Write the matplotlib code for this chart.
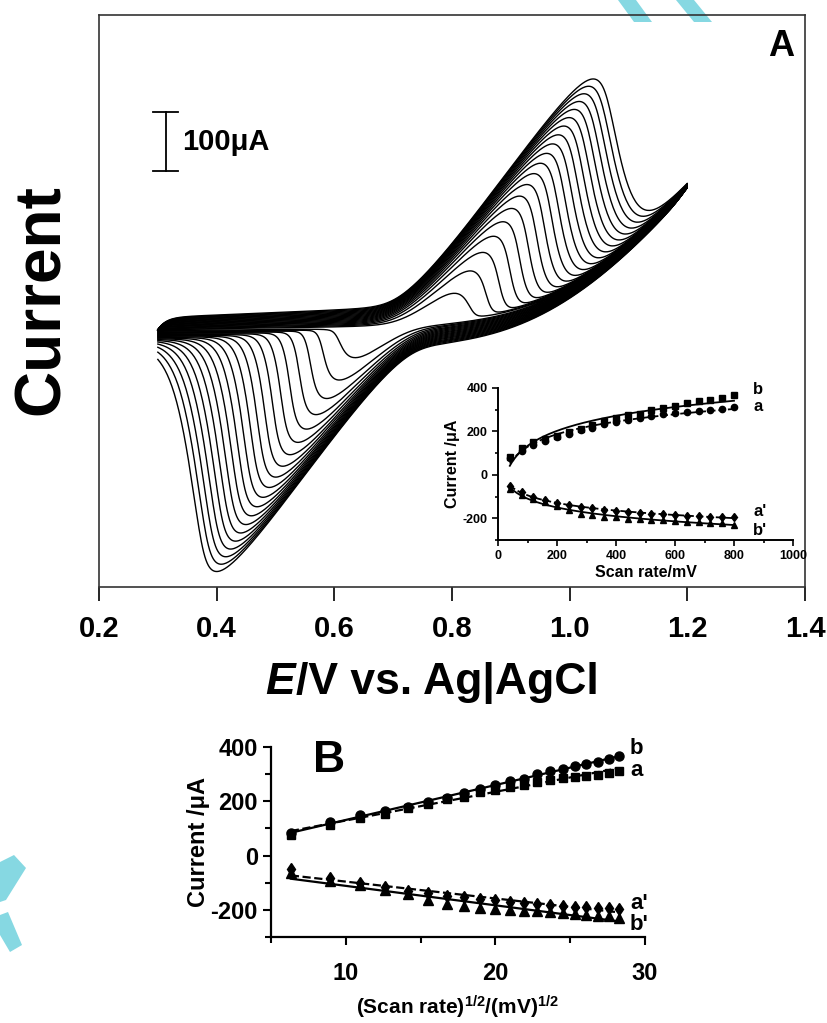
import numpy as np
import matplotlib
matplotlib.use("Agg")
import matplotlib.pyplot as plt
from matplotlib.patches import Polygon

# ---------------- data ----------------
# scan rates of the 20 voltammograms / points (mV/s)
scan_rate = np.array([40, 80, 120, 160, 200, 240, 280, 320, 360, 400,
                      440, 480, 520, 560, 600, 640, 680, 720, 760, 800])

# peak currents (uA)
ipa_a = np.array([77, 112, 139, 155, 175, 190, 207, 215, 233, 243,
                  253, 261, 270, 280, 286, 290, 295, 298, 303, 311])
ipa_b = np.array([82, 122, 150, 165, 180, 198, 213, 230, 247, 261,
                  274, 282, 300, 310, 319, 330, 338, 345, 354, 368])
ipc_a = np.array([-50, -81, -100, -116, -130, -138, -148, -154, -161, -165,
                  -170, -175, -179, -182, -186, -188, -191, -194, -194, -196])
ipc_b = np.array([-64, -92, -110, -127, -142, -164, -180, -186, -192, -196,
                  -201, -203, -206, -209, -212, -216, -218, -221, -224, -231])

# cell parameters estimated from the voltammograms in panel A
E_start, E_switch, dE = 0.30, 1.20, 0.002   # V
Ru = 5.8e-4                   # V/uA (~580 ohm uncompensated resistance)
Q_film, T_film = 110.0, 0.07  # uC, L^2/D (s) of the redox film
n_film = 1.5
E0_ox, E0_red = 0.75, 0.68   # V, apparent potentials (forward / reverse)
C0, C1 = 28.0, 40.0          # uF, uF/V  double layer
G_bg = 10.0                  # uA/V sloping background
A_ox, E_ox, b_ox = 110.0, 1.0, 0.08   # onset of background oxidation

scale_bar = 100      # uA

F_RT = 38.92


def sig(z):
    return 0.5 * (1 + np.tanh(0.5 * z))


def simulate_cv(v):
    """finite (film) diffusion, Nernstian, with ohmic drop and background"""
    nh = int(round((E_switch - E_start) / dE))
    E = np.concatenate([E_start + dE * np.arange(1, nh + 1),
                        E_switch - dE * np.arange(1, nh + 1)])
    N = E.size
    K = v.size
    dt = dE / v
    M = 60
    h = 1.0 / M
    r = dt / T_film / h ** 2
    Ainv = np.empty((K, M, M))
    idx = np.arange(M)
    for k in range(K):
        A = np.zeros((M, M))
        A[idx, idx] = 1 + 2 * r[k]
        A[idx[:-1], idx[:-1] + 1] = -r[k]
        A[idx[1:], idx[1:] - 1] = -r[k]
        A[M - 1, M - 2] = -2 * r[k]
        Ainv[k] = np.linalg.inv(A)
    g = Ainv[:, :, 0] * r[:, None]
    u = np.ones((K, M))
    nf = n_film * F_RT
    i_tot = np.zeros((K, N))
    x_prev = np.full(K, E_start)

    def charge(x):
        return C0 * x + 0.5 * C1 * (x - E_start) ** 2

    for n in range(N):
        if n < nh:
            e0 = E0_ox
        else:
            e0 = E0_red + (E0_ox - E0_red) * np.exp(-(n - nh) / 15.0)
        P = np.einsum('kij,kj->ki', Ainv, u)

        def total(x):
            u0 = sig(-nf * (x - e0))
            u1 = P[:, 0] + u0 * g[:, 0]
            u2 = P[:, 1] + u0 * g[:, 1]
            If = Q_film / T_film * (-3 * u0 + 4 * u1 - u2) / (2 * h)
            Ic = (charge(x) - charge(x_prev)) / dt
            Ib = G_bg * (x - E_start) + A_ox * np.exp(np.minimum((x - E_ox) / b_ox, 60))
            return If + Ic + Ib, u0

        lo = np.full(K, E[n] - 1.5)
        hi = np.full(K, E[n] + 1.5)
        for _ in range(42):
            x = 0.5 * (lo + hi)
            I, _u0 = total(x)
            pos = E[n] - x - Ru * I > 0
            lo = np.where(pos, x, lo)
            hi = np.where(pos, hi, x)
        x = 0.5 * (lo + hi)
        I, u0 = total(x)
        u = P + u0[:, None] * g
        i_tot[:, n] = I
        x_prev = x
    E = np.concatenate([[E_start], E])
    I = np.hstack([np.zeros((K, 1)), i_tot])
    return E, I


E_cv, I_cv = simulate_cv(scan_rate / 1000.0)

plt.rcParams['font.family'] = ['Liberation Sans', 'DejaVu Sans']
plt.rcParams['font.weight'] = 'bold'
plt.rcParams['mathtext.fontset'] = 'custom'
plt.rcParams['mathtext.rm'] = 'Liberation Sans:bold'
plt.rcParams['mathtext.it'] = 'Liberation Sans:bold:italic'
plt.rcParams['mathtext.bf'] = 'Liberation Sans:bold'

W, H = 827, 1023
fig = plt.figure(figsize=(W / 100, H / 100), dpi=100)


def box(l, t, r, b):
    return [l / W, 1 - b / H, (r - l) / W, (b - t) / H]


# faint cyan watermark pieces at the page edges
wm = '#86d8e2'
for pts in [[(618, 0), (636, 0), (652, 22), (634, 22)],
            [(676, 0), (694, 0), (712, 22), (694, 22)],
            [(0, 862), (14, 855), (26, 868), (6, 900), (0, 902)],
            [(0, 915), (8, 912), (22, 945), (10, 952), (0, 935)]]:
    fig.add_artist(Polygon([(x / W, 1 - y / H) for x, y in pts], closed=True,
                           transform=fig.transFigure, color=wm, lw=0, zorder=0))

# ---------------- panel A ----------------
ax = fig.add_axes(box(99, 15, 805, 587))
ax.patch.set_alpha(0)
for k in range(len(scan_rate)):
    ax.plot(E_cv, I_cv[k], color='black', lw=1.0)
y0_px = 330
ax.set_xlim(0.2, 1.4)
ax.set_ylim(-(587 - y0_px) / 0.59, (y0_px - 15) / 0.59)
ax.set_yticks([])
ax.set_xticks([0.2, 0.4, 0.6, 0.8, 1.0, 1.2, 1.4])
ax.set_xticklabels(['0.2', '0.4', '0.6', '0.8', '1.0', '1.2', '1.4'])
ax.tick_params(axis='x', direction='out', length=10, width=1.2, labelsize=21, pad=10)
for s in ax.spines.values():
    s.set_linewidth(1.2)
    s.set_color('#333333')

# scale bar
top = (y0_px - 112) / 0.59
ax.plot([0.314, 0.314], [top - scale_bar, top], color='black', lw=1.3)
ax.plot([0.292, 0.334], [top, top], color='black', lw=1.3)
ax.plot([0.292, 0.334], [top - scale_bar, top - scale_bar], color='black', lw=1.3)
ax.text(0.342, top - scale_bar / 2, '100\u03bcA', fontsize=21, fontweight='bold',
        va='center', ha='left')
ax.text(0.985, 0.945, 'A', transform=ax.transAxes, fontsize=26, fontweight='bold',
        ha='right', va='center')

fig.text(42 / W, 1 - 300 / H, 'Current', rotation=90, fontsize=46, fontweight='bold',
         ha='center', va='center')
fig.text(265 / W, 1 - 683 / H, 'E', fontsize=32, fontweight='bold', style='italic',
         ha='left', va='center')
fig.text(296 / W, 1 - 683 / H, '/V vs. Ag|AgCl', fontsize=32, fontweight='bold',
         ha='left', va='center')

# ---------------- inset ----------------
ins = fig.add_axes(box(498, 388, 793, 540))
lv = np.log(scan_rate)
vv = np.linspace(40, 800, 200)
for y, mk, ls in [(ipa_b, 's', '-'), (ipa_a, 'o', '--'), (ipc_a, 'd', '--'), (ipc_b, '^', '-')]:
    ins.plot(scan_rate, y, ls='none', marker=mk, ms=4.5, color='black')
    p = np.polyfit(lv, y, 1)
    ins.plot(vv, np.polyval(p, np.log(vv)), ls=ls, color='black', lw=1.3)
ins.set_xlim(0, 1000)
ins.set_ylim(-300, 400)
ins.set_xticks([0, 200, 400, 600, 800, 1000])
ins.set_yticks([-200, 0, 200, 400])
ins.set_yticklabels(['-200', '0', '200', '400'])
ins.set_yticks([-300, -100, 100, 300], minor=True)
ins.set_xticks([100, 300, 500, 700, 900], minor=True)
ins.tick_params(which='both', direction='out', labelsize=9, length=4, width=1.2)
ins.tick_params(which='minor', length=2.5)
for s in ['top', 'right']:
    ins.spines[s].set_visible(False)
for s in ['left', 'bottom']:
    ins.spines[s].set_linewidth(1.4)
ins.patch.set_alpha(0)
ins.set_xlabel('Scan rate/mV', fontsize=11.5, fontweight='bold', labelpad=2)
ins.set_ylabel('Current /\u03bcA', fontsize=11.5, fontweight='bold', labelpad=2)
for lab, yy in [('b', 392), ('a', 314), ("a'", -170), ("b'", -254)]:
    ins.text(865, yy, lab, fontsize=12, fontweight='bold', ha='left', va='center')

# ---------------- panel B ----------------
axb = fig.add_axes(box(271, 747, 645, 937))
sr = np.sqrt(scan_rate)
xx = np.array([sr[0], sr[-1]])
for y, mk, ls, ms in [(ipa_b, 'o', '-', 6.5), (ipa_a, 's', '--', 6), (ipc_a, 'd', '--', 6.5), (ipc_b, '^', '-', 6.5)]:
    axb.plot(sr, y, ls='none', marker=mk, ms=ms, color='black')
    p = np.polyfit(sr, y, 1)
    axb.plot(xx, np.polyval(p, xx), ls=ls, color='black', lw=1.6)
axb.set_xlim(5, 30)
axb.set_ylim(-300, 400)
axb.set_xticks([10, 20, 30])
axb.set_xticks([5, 15, 25], minor=True)
axb.set_yticks([-200, 0, 200, 400])
axb.set_yticklabels(['-200', '0', '200', '400'])
axb.set_yticks([-300, -100, 100, 300], minor=True)
axb.tick_params(which='both', direction='out', labelsize=17, length=6, width=1.5)
axb.tick_params(which='minor', length=4)
axb.tick_params(axis='x', pad=12)
for s in ['top', 'right']:
    axb.spines[s].set_visible(False)
for s in ['left', 'bottom']:
    axb.spines[s].set_linewidth(1.6)
axb.patch.set_alpha(0)
axb.set_xlabel('(Scan rate)$^{1/2}$/(mV)$^{1/2}$', fontsize=15, fontweight='bold', labelpad=6)
axb.set_ylabel('Current /\u03bcA', fontsize=17, fontweight='bold', labelpad=0)
axb.text(0.155, 0.93, 'B', transform=axb.transAxes, fontsize=32, fontweight='bold',
         ha='center', va='center')
for lab, yy in [('b', 396), ('a', 314), ("a'", -175), ("b'", -255)]:
    axb.text(29.0, yy, lab, fontsize=16, fontweight='bold', ha='left', va='center')

fig.savefig('out.png', dpi=100)
